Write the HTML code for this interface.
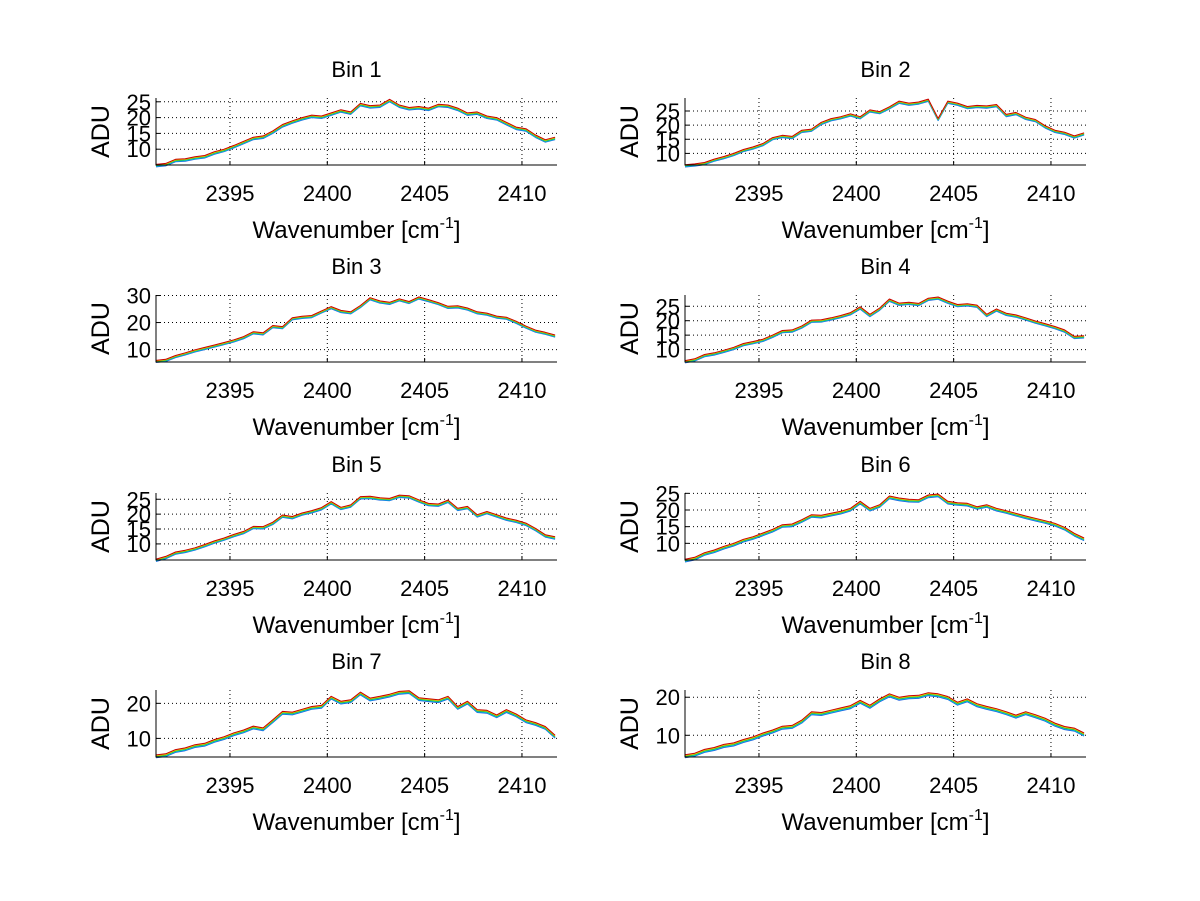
<!DOCTYPE html>
<html><head><meta charset="utf-8">
<style>
html,body{margin:0;padding:0;background:#fff;}
svg{display:block;font-family:"Liberation Sans",Arial,sans-serif;}
</style></head>
<body>
<svg id="fig" width="1200" height="901" viewBox="0 0 1200 901" xmlns="http://www.w3.org/2000/svg">
<rect x="0" y="0" width="1200" height="901" fill="#fff"/>
</svg>
<script>
const wavenumberStart = 2391.2;
const wavenumberStep = 0.5;
const xTicks = [2395, 2400, 2405, 2410];
const xLimits = [2391.2, 2411.8];
const binTitles = ["Bin 1","Bin 2","Bin 3","Bin 4","Bin 5","Bin 6","Bin 7","Bin 8"];
const yLimits = [[5,26.2],[5.9,29.6],[5.4,30.2],[5.7,28.9],[4.6,27.1],[5,25.1],[4.7,23.8],[4.3,21.9]];
const yTicks = [[10,15,20,25],[10,15,20,25],[10,20,30],[10,15,20,25],[10,15,20,25],[10,15,20,25],[10,20],[10,20]];
const bin1 = [5.2,5.5,6.8,7.0,7.6,8.0,9.2,10.0,11.2,12.5,13.8,14.2,15.8,17.8,19.0,20.0,20.8,20.5,21.5,22.5,21.8,24.5,23.8,24.0,25.8,24.0,23.2,23.5,23.0,24.2,24.0,23.0,21.5,21.8,20.5,20.0,18.5,17.0,16.5,14.5,13.0,13.8];
const bin2 = [6.0,6.3,6.8,8.0,8.9,10.0,11.4,12.3,13.5,15.6,16.4,16.0,18.2,18.6,21.0,22.3,23.0,24.0,23.0,25.4,24.8,26.5,28.5,27.8,28.2,29.2,22.4,28.5,27.8,26.6,27.0,26.8,27.3,23.8,24.5,22.8,22.0,19.8,18.2,17.5,16.2,17.3];
const bin3 = [6.0,6.4,7.8,8.8,9.9,10.8,11.7,12.6,13.6,14.8,16.6,16.2,18.9,18.5,21.8,22.3,22.6,24.3,25.9,24.5,24.0,26.3,29.2,28.0,27.5,28.8,27.8,29.5,28.5,27.4,26.0,26.2,25.4,24.0,23.5,22.4,22.0,20.5,18.7,17.2,16.4,15.4];
const bin4 = [6.2,6.8,8.3,8.9,9.8,10.8,12.1,12.8,13.6,15.0,16.6,16.8,18.2,20.2,20.3,21.0,21.8,22.8,24.8,22.2,24.4,27.5,26.1,26.4,26.0,27.8,28.2,26.8,25.6,25.9,25.4,22.2,24.1,22.6,22.0,21.0,19.9,19.0,18.0,16.8,14.6,14.8];
const bin5 = [4.9,5.8,7.3,7.9,8.7,9.8,11.0,12.0,13.2,14.2,15.9,15.8,17.3,19.7,19.2,20.4,21.2,22.2,24.2,22.3,23.1,25.9,26.0,25.5,25.3,26.4,26.2,24.8,23.6,23.4,24.7,22.0,22.6,19.8,20.9,19.8,18.7,18.0,17.0,15.2,13.1,12.4];
const bin6 = [5.2,5.8,7.2,8.0,9.1,10.0,11.2,12.0,13.1,14.2,15.6,15.8,17.1,18.6,18.4,19.0,19.6,20.5,22.6,20.5,21.6,24.2,23.6,23.2,23.1,24.5,24.8,22.6,22.2,22.0,21.0,21.6,20.5,19.8,19.0,18.2,17.5,16.8,16.0,14.8,13.0,11.6];
const bin7 = [5.3,5.6,6.8,7.3,8.2,8.6,9.7,10.5,11.6,12.4,13.5,13.0,15.3,17.7,17.5,18.3,19.1,19.4,22.0,20.6,21.0,23.2,21.5,22.0,22.6,23.4,23.6,21.6,21.3,21.0,22.0,19.1,20.6,18.2,18.0,16.7,18.2,17.0,15.3,14.5,13.4,10.9];
const bin8 = [4.9,5.3,6.3,6.8,7.6,8.0,8.9,9.6,10.6,11.4,12.4,12.6,14.0,16.2,16.0,16.6,17.2,17.8,19.2,17.9,19.6,20.9,20.0,20.4,20.5,21.2,20.9,20.2,18.7,19.6,18.3,17.6,17.0,16.2,15.3,16.2,15.4,14.5,13.2,12.3,11.9,10.6];
const binData = [bin1,bin2,bin3,bin4,bin5,bin6,bin7,bin8];
const channelOffsets = [-0.8,-0.6,-0.4,-0.2,0];
const channelNames = ["blue","cyan","green","yellow","red"];
const channelColors = ["#2060e0","#00c0e0","#30c030","#e8c800","#c80000"];

const NS = "http://www.w3.org/2000/svg";
const svg = document.getElementById("fig");
function mk(tag, attrs, parent){
  const e = document.createElementNS(NS, tag);
  for (const k in attrs) e.setAttribute(k, attrs[k]);
  (parent||svg).appendChild(e);
  return e;
}
const colLeft = [156, 685];
const axW = 401;
const rowTop = [98, 295, 493, 690];
const axH = 67;

for (let b = 0; b < 8; b++) {
  const L = colLeft[b % 2], T = rowTop[Math.floor(b / 2)], R = L + axW, B = T + axH;
  const g = mk("g", {});
  
  
  const yl = yLimits[b];
  const sx = v => L + (v - xLimits[0]) / (xLimits[1] - xLimits[0]) * axW;
  const sy = v => B - (v - yl[0]) / (yl[1] - yl[0]) * axH;
  xTicks.forEach(t => {
    const ln = mk("line", {x1: sx(t), x2: sx(t), y1: T, y2: B, stroke: "#000", "stroke-width": 1, "stroke-dasharray": "1,3"}, g);
    
    
    mk("line", {x1: sx(t), x2: sx(t), y1: B, y2: B - 4, stroke: "#000"}, g);
    const tx = mk("text", {x: sx(t), y: B + 36, "font-size": 22, "text-anchor": "middle"}, g);
    tx.textContent = t;
    
    
  });
  yTicks[b].forEach(t => {
    const ln = mk("line", {x1: L, x2: R, y1: sy(t), y2: sy(t), stroke: "#000", "stroke-width": 1, "stroke-dasharray": "1,3"}, g);
    
    
    mk("line", {x1: L, x2: L + 4, y1: sy(t), y2: sy(t), stroke: "#000"}, g);
    const tx = mk("text", {x: L - 5, y: sy(t) + 8, "font-size": 22, "text-anchor": "end"}, g);
    tx.textContent = t;
    
    
  });
  const vals = binData[b];
  channelOffsets.forEach((off, c) => {
    const pts = vals.map((v, i) => sx(wavenumberStart + i * wavenumberStep).toFixed(1) + "," + sy(v + off).toFixed(1)).join(" ");
    const pl = mk("polyline", {points: pts, fill: "none", stroke: channelColors[c], "stroke-width": 1, "stroke-linejoin": "round"}, g);
    
    
  });
  const ax = mk("path", {d: `M${L},${T} L${L},${B} L${R},${B}`, fill: "none", stroke: "#000", "stroke-width": 1}, g);
  
  
  const ti = mk("text", {x: L + axW / 2, y: T - 21, "font-size": 22, "text-anchor": "middle"}, g);
  ti.textContent = binTitles[b];
  
  
  const yc = T + axH / 2;
  const yt = mk("text", {x: 0, y: 0, "font-size": 25, "text-anchor": "middle", transform: `translate(${L - 47},${yc}) rotate(-90)`}, g);
  yt.textContent = "ADU";
  
  
  const xt = mk("text", {x: L + axW / 2, y: B + 73, "font-size": 24, "text-anchor": "middle"}, g);
  
  
  xt.appendChild(document.createTextNode("Wavenumber [cm"));
  const sup = document.createElementNS(NS, "tspan");
  sup.setAttribute("dy", "-10");
  sup.setAttribute("font-size", "16");
  sup.textContent = "-1";
  xt.appendChild(sup);
  const close = document.createElementNS(NS, "tspan");
  close.setAttribute("dy", "10");
  close.textContent = "]";
  xt.appendChild(close);
}
</script>
</body></html>
